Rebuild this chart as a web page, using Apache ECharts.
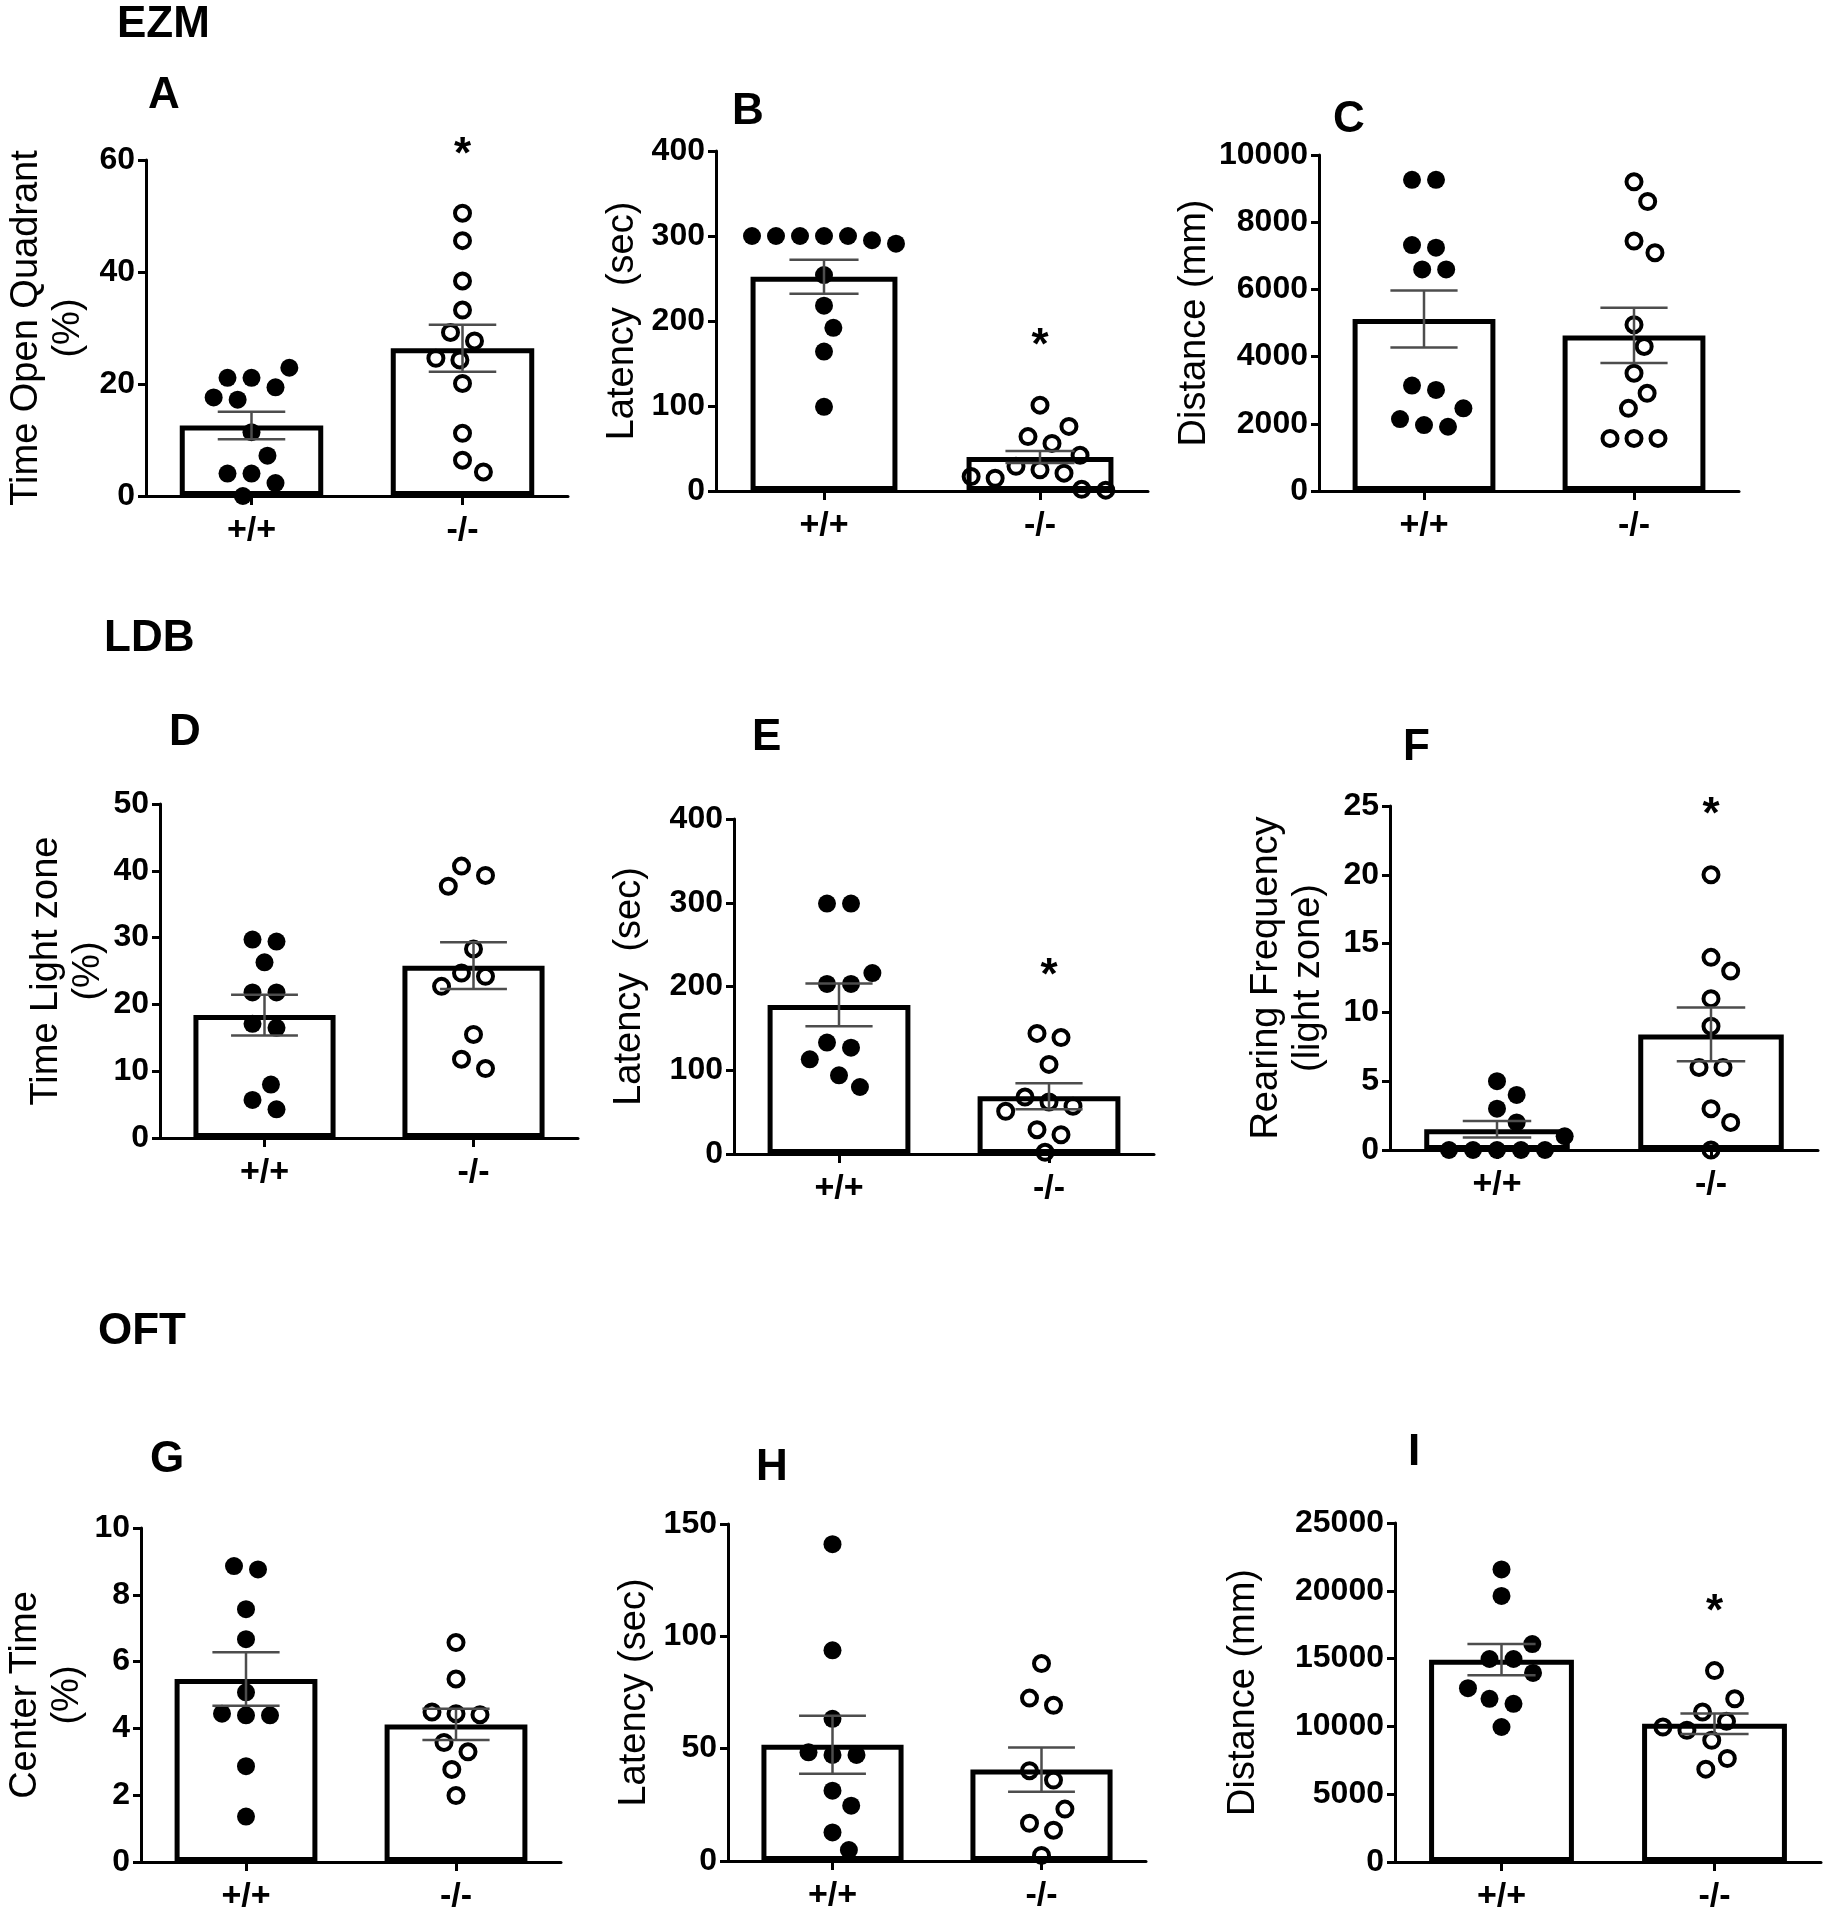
<!DOCTYPE html>
<html>
<head>
<meta charset="utf-8">
<script src="https://cdn.jsdelivr.net/npm/echarts@6/dist/echarts.min.js"></script>
<style>html,body{margin:0;padding:0;background:#fff}#c{width:1829px;height:1920px}</style>
</head>
<body>
<div id="c"></div>
<script>
// ---------------- data ----------------
const groups = ['+/+', '-/-'];

const A_yTicks = [0, 20, 40, 60];
const A_wt = [21.1, 22.9, 21.1, 19.4, 17.2, 17.6, 11.4, 7.2, 4.0, 4.0, 2.3, 0];
const A_ko = [50.5, 45.6, 38.4, 33.2, 29.2, 27.7, 24.6, 24.3, 20.1, 11.2, 6.4, 4.3];
const A_mean = [12.6, 26.4];
const A_sem = [2.45, 4.2];
const A_sig = [false, true];

const B_yTicks = [0, 100, 200, 300, 400];
const B_wt = [300, 300, 300, 291, 295, 300, 300, 254, 218, 192, 164, 99];
const B_ko = [101, 76, 64, 56, 42, 29, 25, 21, 17, 15, 1, 2];
const B_mean = [252, 40];
const B_sem = [20, 7];
const B_sig = [false, true];

const C_yTicks = [0, 2000, 4000, 6000, 8000, 10000];
const C_wt = [9263, 9263, 7241, 7321, 6594, 6594, 3137, 3008, 2460, 2141, 1912, 1962];
const C_ko = [9203, 8616, 7440, 7092, 4950, 4303, 3506, 2908, 2460, 1564, 1564, 1564];
const C_mean = [5120, 4631];
const C_sem = [850, 820];
const C_sig = [false, false];

const D_yTicks = [0, 10, 20, 30, 40, 50];
const D_wt = [29.4, 29.7, 26.3, 21.8, 21.8, 17.1, 16.5, 8.0, 5.7, 4.3];
const D_ko = [40.7, 39.3, 37.7, 28.3, 24.7, 24.2, 22.7, 15.5, 11.8, 10.4];
const D_mean = [18.4, 25.8];
const D_sem = [3.05, 3.5];
const D_sig = [false, false];

const E_yTicks = [0, 100, 200, 300, 400];
const E_wt = [299, 299, 216, 203, 203, 133, 127, 113, 94, 80];
const E_ko = [144, 139, 107, 68, 62, 57, 51, 29, 23, 2];
const E_mean = [178, 69];
const E_sem = [25.5, 15.5];
const E_sig = [false, true];

const F_yTicks = [0, 5, 10, 15, 20, 25];
const F_wt = [5, 4, 3, 2, 1, 0, 0, 0, 0, 0];
const F_ko = [20, 14, 13, 11, 9, 6, 6, 3, 2, 0];
const F_mean = [1.5, 8.4];
const F_sem = [0.6, 1.95];
const F_sig = [false, true];

const G_yTicks = [0, 2, 4, 6, 8, 10];
const G_wt = [8.86, 8.76, 7.57, 6.67, 5.08, 4.44, 4.39, 4.39, 2.87, 1.36];
const G_ko = [6.57, 5.48, 4.44, 4.41, 4.49, 3.58, 3.30, 2.77, 1.99];
const G_mean = [5.48, 4.12];
const G_sem = [0.8, 0.47];
const G_sig = [false, false];

const H_yTicks = [0, 50, 100, 150];
const H_wt = [141, 93.8, 63.3, 48.4, 47.2, 47.2, 31.3, 24.6, 12.7, 4.9];
const H_ko = [87.9, 72.5, 69.3, 40.2, 36.0, 23.1, 16.8, 13.7, 2.5];
const H_mean = [51.7, 40.7];
const H_sem = [12.9, 9.85];
const H_sig = [false, false];

const I_yTicks = [0, 5000, 10000, 15000, 20000, 25000];
const I_wt = [21575, 19618, 16071, 14971, 14971, 13943, 12818, 12035, 11668, 9956];
const I_ko = [14115, 12035, 11057, 10372, 9956, 9711, 8977, 7632, 6849];
const I_mean = [14922, 10200];
const I_sem = [1150, 760];
const I_sig = [false, true];

const sectionTitles = ['EZM', 'LDB', 'OFT'];
const panelLetters = ['A', 'B', 'C', 'D', 'E', 'F', 'G', 'H', 'I'];
const yNames = [
  'Time Open Quadrant\n(%)', 'Latency  (sec)', 'Distance (mm)',
  'Time Light zone\n(%)', 'Latency  (sec)', 'Rearing Frequency\n(light zone)',
  'Center Time\n(%)', 'Latency (sec)', 'Distance (mm)'
];

// ---------------- layout (not data) ----------------
const FONT = '"Liberation Sans", Arial, Helvetica, sans-serif';
const NAME_LH = 42;
const layout = [
  {left: 146, top: 160, width: 422, height: 336, nameGap: 56},
  {left: 716, top: 151, width: 432, height: 340, nameGap: 72},
  {left: 1319, top: 155, width: 420, height: 336, nameGap: 94},
  {left: 160, top: 804, width: 418, height: 334, nameGap: 50},
  {left: 734, top: 819, width: 420, height: 335, nameGap: 83},
  {left: 1390, top: 806, width: 428, height: 344, nameGap: 60},
  {left: 141, top: 1528, width: 420, height: 334, nameGap: 52},
  {left: 728, top: 1524, width: 418, height: 337, nameGap: 72},
  {left: 1395, top: 1523, width: 426, height: 339, nameGap: 130}
];
const letterPos = [[148, 96], [732, 112], [1333, 120], [169, 733], [752, 738], [1403, 748], [150, 1460], [756, 1468], [1408, 1453]];
const sectionPos = [[117, 25], [104, 639], [98, 1332]];

const panelData = [
  [A_yTicks, A_wt, A_ko, A_mean, A_sem, A_sig],
  [B_yTicks, B_wt, B_ko, B_mean, B_sem, B_sig],
  [C_yTicks, C_wt, C_ko, C_mean, C_sem, C_sig],
  [D_yTicks, D_wt, D_ko, D_mean, D_sem, D_sig],
  [E_yTicks, E_wt, E_ko, E_mean, E_sem, E_sig],
  [F_yTicks, F_wt, F_ko, F_mean, F_sem, F_sig],
  [G_yTicks, G_wt, G_ko, G_mean, G_sem, G_sig],
  [H_yTicks, H_wt, H_ko, H_mean, H_sem, H_sig],
  [I_yTicks, I_wt, I_ko, I_mean, I_sem, I_sig]
];

// Column scatter layout: near-equal values form centred rows (largest rows placed first);
// each row is then shifted by the smallest amount that avoids already placed points.
function swarm(vals, pxPerUnit, D) {
  const n = vals.length;
  const order = vals.map((v, i) => i).sort((a, b) => vals[b] - vals[a]);
  const rows = [];
  for (const i of order) {
    const y = vals[i] * pxPerUnit;
    const last = rows[rows.length - 1];
    if (last && last.y0 - y < D * 0.4) last.items.push(i);
    else rows.push({y0: y, items: [i]});
  }
  rows.sort((a, b) => (b.items.length - a.items.length) || (b.y0 - a.y0));
  const placed = [];
  const off = new Array(n).fill(0);
  const R2 = D * D * 0.92;
  for (const row of rows) {
    const m = row.items.length;
    const base = row.items.map((_, k) => (k - (m - 1) / 2) * D);
    const ys = row.items.map(idx => vals[idx] * pxPerUnit);
    const cands = [0];
    for (const p of placed) {
      ys.forEach((y, k) => {
        const dy = Math.abs(p.y - y);
        if (dy < D) {
          const dx = Math.sqrt(D * D - dy * dy);
          cands.push(p.x + dx - base[k], p.x - dx - base[k]);
        }
      });
    }
    cands.sort((a, b) => Math.abs(a) - Math.abs(b) || b - a);
    let chosen = 0;
    for (const s of cands) {
      const ok = ys.every((y, k) => {
        const x = base[k] + s;
        return placed.every(p => (p.x - x) ** 2 + (p.y - y) ** 2 >= R2);
      });
      if (ok) { chosen = s; break; }
    }
    row.items.forEach((idx, k) => {
      const x = base[k] + chosen;
      off[idx] = x;
      placed.push({x: x, y: ys[k]});
    });
  }
  return off;
}

const grids = [], xAxes = [], yAxes = [], series = [], graphics = [];
const SPACING = 24;

panelData.forEach((pd, k) => {
  const [ticks, wt, ko, mean, sem, sig] = pd;
  const L = layout[k];
  const yMax = ticks[ticks.length - 1];
  const interval = ticks[1] - ticks[0];
  const pxPerUnit = L.height / yMax;
  const unitsPerPx = 2 / L.width;

  grids.push({left: L.left, top: L.top, width: L.width, height: L.height, outerBoundsMode: 'none', containLabel: false});

  xAxes.push({
    type: 'category', gridIndex: k, data: groups, boundaryGap: true,
    axisLine: {show: true, onZero: false, lineStyle: {color: '#000', width: 3}},
    axisTick: {show: true, alignWithLabel: true, length: 9, lineStyle: {color: '#000', width: 3}},
    axisLabel: {color: '#000', fontFamily: FONT, fontWeight: 'bold', fontSize: 34, margin: 18},
    splitLine: {show: false}
  });
  xAxes.push({type: 'value', gridIndex: k, min: -0.5, max: 1.5, show: false, splitLine: {show: false},
    axisLine: {onZero: false}});

  yAxes.push({
    type: 'value', gridIndex: k, min: ticks[0], max: yMax, interval: interval,
    name: yNames[k], nameLocation: 'middle', nameGap: L.nameGap, nameRotate: 90,
    nameTextStyle: {color: '#000', fontFamily: FONT, fontSize: 38, lineHeight: NAME_LH, fontWeight: 'normal'},
    axisLine: {show: true, onZero: false, lineStyle: {color: '#000', width: 3}},
    axisTick: {show: true, length: 8, lineStyle: {color: '#000', width: 3}},
    axisLabel: {color: '#000', fontFamily: FONT, fontWeight: 'bold', fontSize: 32, margin: 11,
      formatter: v => String(v)},
    splitLine: {show: false}
  });

  series.push({
    type: 'bar', xAxisIndex: 2 * k, yAxisIndex: k, data: mean, barWidth: '68%',
    itemStyle: {color: '#fff', borderColor: '#000', borderWidth: 5, opacity: 1}, silent: true, z: 1
  });

  const offW = swarm(wt, pxPerUnit, SPACING);
  const offK = swarm(ko, pxPerUnit, SPACING);
  series.push({
    type: 'scatter', xAxisIndex: 2 * k + 1, yAxisIndex: k, clip: false,
    data: wt.map((v, i) => [0 + offW[i] * unitsPerPx, v]),
    symbol: 'circle', symbolSize: 18, itemStyle: {color: '#000', opacity: 1}, silent: true, z: 3
  });
  series.push({
    type: 'scatter', xAxisIndex: 2 * k + 1, yAxisIndex: k, clip: false,
    data: ko.map((v, i) => [1 + offK[i] * unitsPerPx, v]),
    symbol: 'circle', symbolSize: 15,
    itemStyle: {color: 'rgba(0,0,0,0)', borderColor: '#000', borderWidth: 4, opacity: 1}, silent: true, z: 3
  });

  series.push({
    type: 'custom', xAxisIndex: 2 * k, yAxisIndex: k, clip: false, silent: true, z: 4,
    encode: {x: 0, y: [1, 2]},
    data: mean.map((m, i) => [i, m - sem[i], m + sem[i]]),
    renderItem: function (params, api) {
      const x = api.value(0);
      const lo = api.coord([x, api.value(1)]);
      const hi = api.coord([x, api.value(2)]);
      const hw = api.size([1, 0])[0] * 0.16;
      const st = {stroke: '#4d4d4d', lineWidth: 2.5};
      return {type: 'group', children: [
        {type: 'line', shape: {x1: lo[0], y1: lo[1], x2: hi[0], y2: hi[1]}, style: st},
        {type: 'line', shape: {x1: lo[0] - hw, y1: lo[1], x2: lo[0] + hw, y2: lo[1]}, style: st},
        {type: 'line', shape: {x1: hi[0] - hw, y1: hi[1], x2: hi[0] + hw, y2: hi[1]}, style: st}
      ]};
    }
  });

  const starData = [];
  sig.forEach((s, i) => {
    if (s) {
      const vals = i === 0 ? wt : ko;
      starData.push([i, Math.max.apply(null, vals) + 0.17 * yMax]);
    }
  });
  if (starData.length) {
    series.push({
      type: 'scatter', xAxisIndex: 2 * k + 1, yAxisIndex: k, clip: false, silent: true, z: 5,
      data: starData, symbol: 'circle', symbolSize: 1, itemStyle: {color: 'rgba(0,0,0,0)', opacity: 1},
      label: {show: true, position: 'inside', formatter: '*', color: '#000', opacity: 1,
        fontFamily: FONT, fontSize: 44, fontWeight: 'bold'}
    });
  }
});

sectionTitles.forEach((t, i) => {
  graphics.push({type: 'text', x: sectionPos[i][0], y: sectionPos[i][1],
    style: {text: t, fill: '#000', font: 'bold 44px ' + FONT, textAlign: 'left', textVerticalAlign: 'middle'}});
});
panelLetters.forEach((t, i) => {
  graphics.push({type: 'text', x: letterPos[i][0], y: letterPos[i][1],
    style: {text: t, fill: '#000', font: 'bold 44px ' + FONT, textAlign: 'left', textVerticalAlign: 'middle'}});
});

const chart = echarts.init(document.getElementById('c'), null, {renderer: 'canvas'});
chart.setOption({
  animation: false,
  backgroundColor: '#fff',
  grid: grids,
  xAxis: xAxes,
  yAxis: yAxes,
  series: series,
  graphic: graphics
});
</script>
</body>
</html>
